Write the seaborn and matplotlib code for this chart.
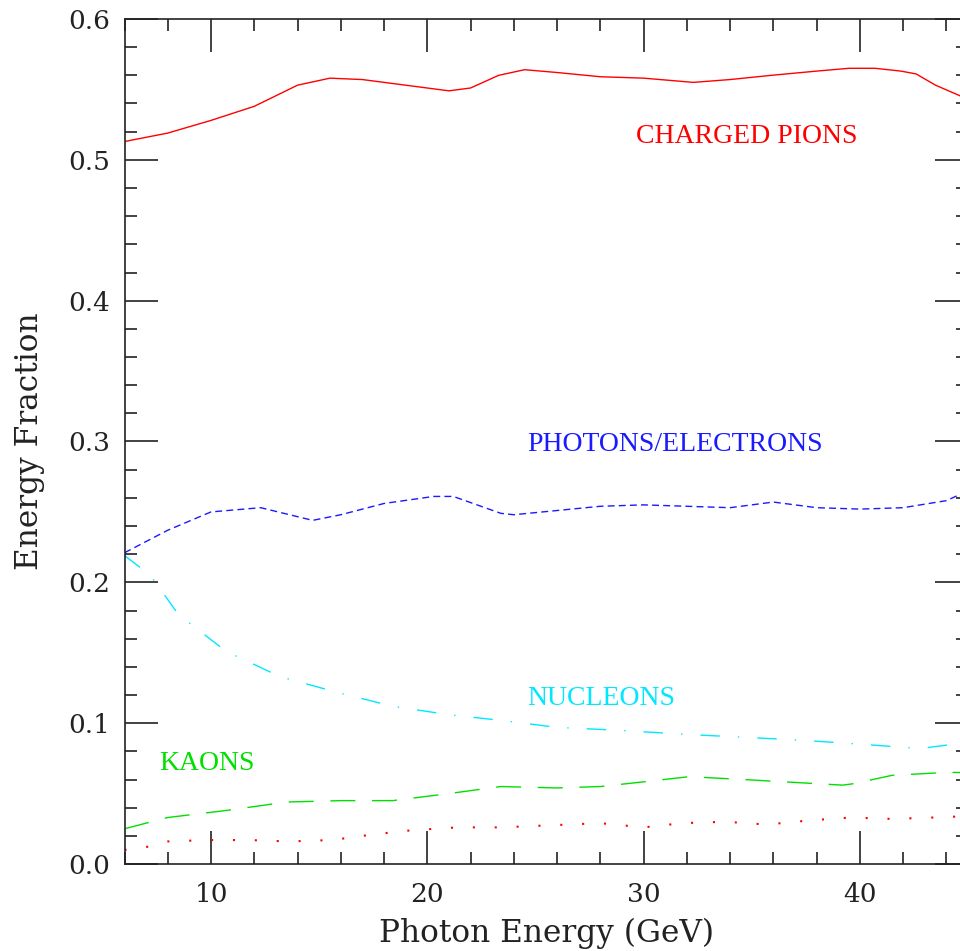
import matplotlib
matplotlib.use("Agg")
import matplotlib.pyplot as plt
import seaborn as sns
import pandas as pd
from matplotlib.ticker import MultipleLocator

# ---- data ----
pion_x = [6, 8, 10, 12, 14, 15.5, 17, 19, 21, 22, 23.3, 24.5, 26, 28, 30, 32.3, 34, 35.9, 38, 39.5, 40.7, 41.9, 42.6, 43.5, 45]
pion_y = [0.513, 0.519, 0.528, 0.538, 0.553, 0.558, 0.557, 0.553, 0.549, 0.551, 0.560, 0.564, 0.562, 0.559, 0.558, 0.555, 0.557, 0.560, 0.563, 0.565, 0.565, 0.563, 0.561, 0.553, 0.543]

phot_x = [6, 8, 10, 12.3, 14.7, 16, 18, 20.3, 21.2, 23.4, 24, 26, 28, 30, 32, 34, 36, 38, 40, 42, 44, 45]
phot_y = [0.221, 0.237, 0.250, 0.253, 0.244, 0.248, 0.256, 0.261, 0.261, 0.249, 0.248, 0.251, 0.254, 0.255, 0.254, 0.253, 0.257, 0.253, 0.252, 0.253, 0.258, 0.265]

nucl_x = [6, 7.2, 8.5, 10.7, 13.2, 15.8, 18.4, 21, 23.4, 26, 28.8, 32, 34.6, 37.2, 40.1, 42.8, 44.3, 45]
nucl_y = [0.219, 0.205, 0.177, 0.151, 0.133, 0.122, 0.112, 0.106, 0.102, 0.097, 0.095, 0.092, 0.090, 0.088, 0.085, 0.082, 0.085, 0.085]

kaon_x = [6, 8, 10.7, 13.5, 16, 18.4, 21, 23.4, 26, 28, 29.8, 32.1, 34.6, 36.9, 39.2, 39.7, 41.5, 44, 45]
kaon_y = [0.025, 0.033, 0.038, 0.044, 0.045, 0.045, 0.050, 0.055, 0.054, 0.055, 0.058, 0.062, 0.060, 0.058, 0.056, 0.057, 0.063, 0.065, 0.065]

pi0_x = [6, 7, 8, 9.8, 11.8, 13.6, 15.6, 17.5, 19.3, 21.4, 23.4, 28, 30, 31.8, 33.8, 35.7, 37.7, 39.6, 41.5, 43.4, 45]
pi0_y = [0.010, 0.012, 0.016, 0.017, 0.017, 0.016, 0.017, 0.021, 0.024, 0.026, 0.026, 0.029, 0.026, 0.029, 0.030, 0.028, 0.031, 0.033, 0.032, 0.033, 0.034]

labels = ["CHARGED PIONS", "PHOTONS/ELECTRONS", "NUCLEONS", "KAONS"]
label_pos = [(29.65, 0.512), (24.6, 0.293), (24.6, 0.113), (7.6, 0.067)]

xticks = [10, 20, 30, 40]
yticks = [0.0, 0.1, 0.2, 0.3, 0.4, 0.5, 0.6]

# ---- styling ----
sns.set_theme(style="ticks")
plt.rcParams['font.family'] = ['DejaVu Serif', 'Liberation Serif']

fig = plt.figure(figsize=(9.6, 9.51), dpi=100)
ax = fig.add_axes([124.5 / 960, 1 - 864 / 951, (968 - 124.5) / 960, (864 - 19) / 951])

series = [
    (pion_x, pion_y, "#ff0000", "-", 1.0),
    (phot_x, phot_y, "#1a1aff", (0, (5, 3)), 1.0),
    (nucl_x, nucl_y, "#00e8ff", (0, (14, 13, 1, 13)), 1.0),
    (kaon_x, kaon_y, "#00e000", (0, (18, 12)), 1.0),
    (pi0_x, pi0_y, "#ff0000", (0, (1, 9.5)), 1.5),
]
for xs, ys, col, ls, lw in series:
    df = pd.DataFrame({"x": xs, "y": ys})
    sns.lineplot(data=df, x="x", y="y", ax=ax, color=col, linestyle=ls,
                 linewidth=lw, sort=False, estimator=None)

label_colors = ["#ff0000", "#1a1aff", "#00e8ff", "#00e000"]
for txt, (lx, ly), c in zip(labels, label_pos, label_colors):
    ax.text(lx, ly, txt, color=c, fontsize=20, ha="left", va="baseline",
            family=['Liberation Serif', 'DejaVu Serif'])

ax.set_xlim(6, 45)
ax.set_ylim(0, 0.6)
ax.set_xticks(xticks)
ax.set_yticks(yticks)
ax.set_xticklabels([str(t) for t in xticks])
ax.set_yticklabels([f"{t:.1f}" for t in yticks])
ax.xaxis.set_minor_locator(MultipleLocator(2))
ax.yaxis.set_minor_locator(MultipleLocator(0.02))
ax.tick_params(which="both", direction="in", top=True, right=True, color="#222222", width=1.2)
ax.tick_params(which="major", length=24, labelsize=19, colors="#222222")
ax.tick_params(axis="x", which="major", pad=13)
ax.tick_params(axis="y", which="major", pad=10)
ax.tick_params(which="minor", length=8.5)
for s in ax.spines.values():
    s.set_color("#222222")
    s.set_linewidth(1.2)

ax.set_xlabel("Photon Energy (GeV)", fontsize=22.5, color="#222222", labelpad=8)
ax.set_ylabel("Energy Fraction", fontsize=22.5, color="#222222", labelpad=17)

fig.savefig("out.png", dpi=100)
